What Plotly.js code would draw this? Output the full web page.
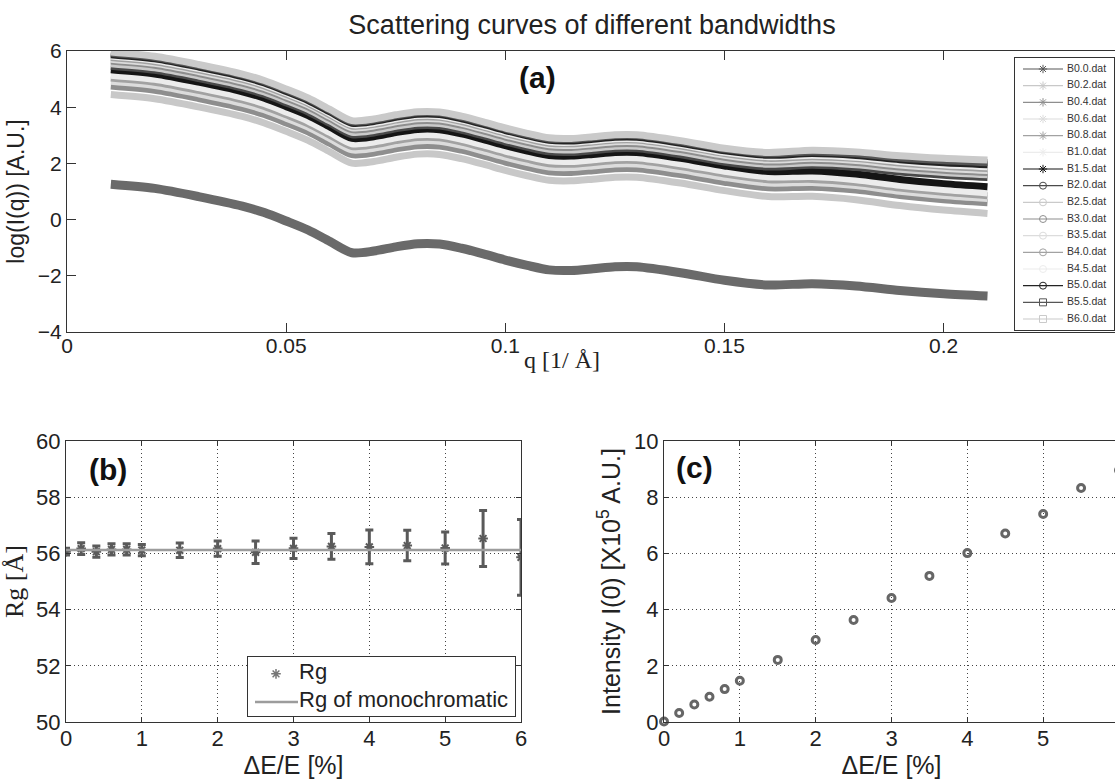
<!DOCTYPE html>
<html><head><meta charset="utf-8">
<script src="https://cdn.plot.ly/plotly-3.0.1.min.js"></script>
<style>html,body{margin:0;padding:0;overflow:hidden;background:#fff}#chart{width:1120px;height:779px}</style>
</head><body><div id="chart"></div><script>
// ---------- data: panel (a) ----------
const q = [0.010,0.020,0.030,0.040,0.045,0.050,0.055,0.060,0.065,0.070,0.075,0.080,0.085,0.090,0.095,0.100,0.105,0.110,0.115,0.120,0.125,0.130,0.140,0.150,0.160,0.170,0.180,0.190,0.200,0.210];
const B0_0 = [1.26,1.11,0.82,0.48,0.25,-0.05,-0.37,-0.78,-1.18,-1.12,-0.97,-0.86,-0.87,-1.02,-1.22,-1.44,-1.63,-1.79,-1.81,-1.75,-1.68,-1.68,-1.89,-2.16,-2.33,-2.28,-2.36,-2.52,-2.64,-2.72];
const B0_2 = [4.45,4.30,4.01,3.67,3.44,3.14,2.82,2.41,2.01,2.07,2.22,2.33,2.32,2.17,1.97,1.75,1.56,1.40,1.38,1.44,1.51,1.51,1.30,1.03,0.82,0.83,0.71,0.50,0.34,0.22];
const B0_4 = [4.75,4.60,4.31,3.97,3.74,3.44,3.12,2.71,2.31,2.37,2.52,2.63,2.62,2.47,2.27,2.05,1.86,1.70,1.68,1.74,1.81,1.81,1.60,1.33,1.13,1.15,1.05,0.86,0.71,0.60];
const B0_6 = [4.92,4.77,4.48,4.14,3.91,3.61,3.29,2.88,2.48,2.54,2.69,2.80,2.79,2.64,2.44,2.22,2.03,1.87,1.85,1.91,1.98,1.98,1.77,1.50,1.30,1.32,1.21,1.01,0.86,0.75];
const B0_8 = [5.04,4.89,4.60,4.26,4.03,3.73,3.41,3.00,2.60,2.66,2.81,2.92,2.91,2.76,2.56,2.34,2.15,1.99,1.97,2.03,2.10,2.10,1.89,1.62,1.42,1.43,1.32,1.12,0.97,0.85];
const B1_0 = [5.14,4.99,4.70,4.36,4.13,3.83,3.51,3.10,2.70,2.76,2.91,3.02,3.01,2.86,2.66,2.44,2.25,2.09,2.07,2.13,2.20,2.20,1.99,1.72,1.52,1.53,1.42,1.22,1.07,0.95];
const B1_5 = [5.33,5.18,4.89,4.55,4.32,4.02,3.70,3.29,2.89,2.95,3.10,3.21,3.20,3.05,2.85,2.63,2.44,2.28,2.26,2.32,2.39,2.39,2.18,1.91,1.71,1.73,1.62,1.43,1.28,1.17];
const B2_0 = [5.46,5.31,5.02,4.68,4.45,4.15,3.83,3.42,3.02,3.08,3.23,3.34,3.33,3.18,2.98,2.76,2.57,2.41,2.39,2.45,2.52,2.52,2.31,2.04,1.87,1.93,1.85,1.69,1.58,1.50];
const B2_5 = [5.55,5.40,5.11,4.77,4.54,4.24,3.92,3.51,3.11,3.17,3.32,3.43,3.42,3.27,3.07,2.85,2.66,2.50,2.48,2.54,2.61,2.61,2.40,2.13,1.97,2.02,1.95,1.79,1.68,1.60];
const B3_0 = [5.64,5.49,5.20,4.86,4.63,4.33,4.01,3.60,3.20,3.26,3.41,3.52,3.51,3.36,3.16,2.94,2.75,2.59,2.57,2.63,2.70,2.70,2.49,2.22,2.05,2.11,2.03,1.87,1.76,1.68];
const B3_5 = [5.71,5.56,5.27,4.93,4.70,4.40,4.08,3.67,3.27,3.33,3.48,3.59,3.58,3.43,3.23,3.01,2.82,2.66,2.64,2.70,2.77,2.77,2.56,2.29,2.12,2.18,2.10,1.94,1.83,1.75];
const B4_0 = [5.77,5.62,5.33,4.99,4.76,4.46,4.14,3.73,3.33,3.39,3.54,3.65,3.64,3.49,3.29,3.07,2.88,2.72,2.70,2.76,2.83,2.83,2.62,2.35,2.18,2.24,2.17,2.01,1.90,1.82];
const B4_5 = [5.82,5.67,5.38,5.04,4.81,4.51,4.19,3.78,3.38,3.44,3.59,3.70,3.69,3.54,3.34,3.12,2.93,2.77,2.75,2.81,2.88,2.88,2.67,2.40,2.24,2.29,2.22,2.07,1.95,1.88];
const B5_0 = [5.87,5.72,5.43,5.09,4.86,4.56,4.24,3.83,3.43,3.49,3.64,3.75,3.74,3.59,3.39,3.17,2.98,2.82,2.80,2.86,2.93,2.93,2.72,2.45,2.29,2.35,2.28,2.13,2.02,1.95];
const B5_5 = [5.92,5.77,5.48,5.14,4.91,4.61,4.29,3.88,3.48,3.54,3.69,3.80,3.79,3.64,3.44,3.22,3.03,2.87,2.85,2.91,2.98,2.98,2.77,2.50,2.34,2.41,2.34,2.19,2.09,2.02];
const B6_0 = [5.96,5.81,5.52,5.18,4.95,4.65,4.33,3.92,3.52,3.58,3.73,3.84,3.83,3.68,3.48,3.26,3.07,2.91,2.89,2.95,3.02,3.02,2.81,2.54,2.39,2.47,2.41,2.27,2.18,2.12];
const seriesNames = ['B0.0.dat','B0.2.dat','B0.4.dat','B0.6.dat','B0.8.dat','B1.0.dat','B1.5.dat','B2.0.dat','B2.5.dat','B3.0.dat','B3.5.dat','B4.0.dat','B4.5.dat','B5.0.dat','B5.5.dat','B6.0.dat'];
const seriesValues = [B0_0,B0_2,B0_4,B0_6,B0_8,B1_0,B1_5,B2_0,B2_5,B3_0,B3_5,B4_0,B4_5,B5_0,B5_5,B6_0];
const qTickVals = [0,0.05,0.1,0.15,0.2];
const qTickText = ['0','0.05','0.1','0.15','0.2'];

// ---------- data: panels (b) and (c) ----------
const deltaE = [0,0.2,0.4,0.6,0.8,1.0,1.5,2.0,2.5,3.0,3.5,4.0,4.5,5.0,5.5,6.0];
const rg = [56.06,56.17,56.06,56.14,56.14,56.12,56.11,56.17,56.04,56.18,56.25,56.23,56.28,56.19,56.53,55.86];
const rgErr = [0.12,0.21,0.2,0.2,0.2,0.2,0.26,0.27,0.4,0.36,0.46,0.6,0.54,0.57,1.0,1.35];
const rgMono = 56.12;
const intensity0 = [0.02,0.32,0.62,0.90,1.17,1.47,2.21,2.92,3.63,4.41,5.20,6.01,6.71,7.40,8.33,8.96];
const rgLegendNames = ['Rg','Rg of monochromatic'];

// ---------- styles ----------
const seriesStyle = [
  {color:'#6a6a6a', legend:'#575757', symbol:'asterisk-open'},
  {color:'#c8c8c8', legend:'#c8c8c8', symbol:'asterisk-open'},
  {color:'#8e8e8e', legend:'#8e8e8e', symbol:'asterisk-open'},
  {color:'#dcdcdc', legend:'#dcdcdc', symbol:'asterisk-open'},
  {color:'#a2a2a2', legend:'#a2a2a2', symbol:'asterisk-open'},
  {color:'#ececec', legend:'#ececec', symbol:'asterisk-open'},
  {color:'#151515', legend:'#151515', symbol:'asterisk-open'},
  {color:'#4a4a4a', legend:'#4a4a4a', symbol:'circle-open'},
  {color:'#cacaca', legend:'#cacaca', symbol:'circle-open'},
  {color:'#8e8e8e', legend:'#8e8e8e', symbol:'circle-open'},
  {color:'#dcdcdc', legend:'#dcdcdc', symbol:'circle-open'},
  {color:'#a2a2a2', legend:'#a2a2a2', symbol:'circle-open'},
  {color:'#ececec', legend:'#ececec', symbol:'circle-open'},
  {color:'#232323', legend:'#232323', symbol:'circle-open'},
  {color:'#565656', legend:'#565656', symbol:'square-open'},
  {color:'#cacaca', legend:'#cacaca', symbol:'square-open'}
];
const SANS = 'Liberation Sans, Arial, sans-serif';
const SERIF = 'Liberation Serif, Times New Roman, serif';
const AX = '#333333';
const W = 1120, H = 779;
const px = v => v / W;
const py = v => 1 - v / H;

const traces = [];
// panel (a) curves
seriesValues.forEach((vals, i) => {
  traces.push({
    x: q, y: vals, type: 'scatter', mode: 'lines', xaxis: 'x', yaxis: 'y',
    line: {color: seriesStyle[i].color, width: i === 0 ? 9 : 7, shape: 'spline', smoothing: 0.8},
    name: seriesNames[i], hoverinfo: 'skip'
  });
});
// legend of (a) drawn in its own small subplot
const legIdx = seriesNames.map((_, i) => i);
seriesNames.forEach((n, i) => {
  traces.push({
    x: [8, 48], y: [i, i], type: 'scatter', mode: 'lines', xaxis: 'x4', yaxis: 'y4',
    line: {color: seriesStyle[i].legend, width: 1.2}, hoverinfo: 'skip'
  });
});
traces.push({
  x: legIdx.map(() => 28), y: legIdx, type: 'scatter', mode: 'markers', xaxis: 'x4', yaxis: 'y4',
  marker: {symbol: seriesStyle.map(s => s.symbol), size: 7, color: seriesStyle.map(s => s.legend),
           line: {color: seriesStyle.map(s => s.legend), width: 1}},
  hoverinfo: 'skip'
});
traces.push({
  x: legIdx.map(() => 52), y: legIdx, text: seriesNames, type: 'scatter', mode: 'text',
  xaxis: 'x4', yaxis: 'y4', textposition: 'middle right',
  textfont: {family: SANS, size: 10.5, color: '#333'}, hoverinfo: 'skip'
});

// panel (b)
traces.push({
  x: deltaE, y: rg, type: 'scatter', mode: 'markers', xaxis: 'x2', yaxis: 'y2', name: 'Rg',
  marker: {symbol: 'asterisk-open', size: 8, color: '#5a5a5a', line: {color: '#5a5a5a', width: 2}},
  error_y: {type: 'data', array: rgErr, visible: true, thickness: 3, width: 4, color: '#5a5a5a'},
  hoverinfo: 'skip'
});
traces.push({
  x: [0, 6], y: [rgMono, rgMono], type: 'scatter', mode: 'lines', xaxis: 'x2', yaxis: 'y2',
  name: 'Rg of monochromatic', line: {color: '#9c9c9c', width: 2.5}, hoverinfo: 'skip'
});
// legend of (b)
traces.push({
  x: [28], y: [1], type: 'scatter', mode: 'markers', xaxis: 'x5', yaxis: 'y5',
  marker: {symbol: 'asterisk-open', size: 8, color: '#777', line: {color: '#777', width: 1.5}}, hoverinfo: 'skip'
});
traces.push({
  x: [7, 50], y: [0, 0], type: 'scatter', mode: 'lines', xaxis: 'x5', yaxis: 'y5',
  line: {color: '#9c9c9c', width: 2.5}, hoverinfo: 'skip'
});
traces.push({
  x: [51, 51], y: [1, 0], text: rgLegendNames, type: 'scatter', mode: 'text', xaxis: 'x5', yaxis: 'y5',
  textposition: 'middle right', textfont: {family: SANS, size: 22, color: '#222'}, hoverinfo: 'skip'
});

// panel (c)
traces.push({
  x: deltaE, y: intensity0, type: 'scatter', mode: 'markers', xaxis: 'x3', yaxis: 'y3',
  marker: {symbol: 'circle-open', size: 7, color: '#666', line: {color: '#666', width: 3}},
  cliponaxis: false, hoverinfo: 'skip'
});

const gridAx = (extra) => Object.assign({
  showline: true, mirror: 'ticks', linecolor: AX, linewidth: 1,
  ticks: 'inside', ticklen: 5, tickcolor: AX,
  showgrid: true, gridcolor: '#444', griddash: '1px,3px', gridwidth: 1,
  zeroline: false, tickfont: {family: SANS, size: 22, color: '#222'}
}, extra);
const hiddenAx = (extra) => Object.assign({
  showline: true, mirror: true, linecolor: AX, linewidth: 1,
  ticks: '', showticklabels: false, showgrid: false, zeroline: false, fixedrange: true
}, extra);

const layout = {
  width: W, height: H, margin: {l: 0, r: 0, t: 0, b: 0},
  paper_bgcolor: '#ffffff', plot_bgcolor: '#ffffff', showlegend: false,
  title: {text: 'Scattering curves of different bandwidths', font: {family: SANS, size: 27, color: '#222'},
          x: px(592), xanchor: 'center', xref: 'paper', y: py(25), yanchor: 'middle', yref: 'paper'},
  xaxis: {domain: [px(67), px(1119)], range: [0, 0.24], anchor: 'y',
          tickvals: qTickVals, ticktext: qTickText, ticks: 'inside', ticklen: 9, tickcolor: AX,
          ticklabelstandoff: -5,
          showline: true, mirror: 'ticks', linecolor: AX, linewidth: 1, showgrid: false, zeroline: false,
          tickfont: {family: SANS, size: 21, color: '#222'}},
  yaxis: {domain: [py(332), py(51)], range: [-4, 6], dtick: 2, anchor: 'x',
          ticks: 'inside', ticklen: 9, tickcolor: AX,
          showline: true, mirror: 'ticks', linecolor: AX, linewidth: 1, showgrid: false, zeroline: false,
          tickfont: {family: SANS, size: 21, color: '#222'},
          title: {text: 'log(I(q)) [A.U.]', font: {family: SANS, size: 23, color: '#222'}, standoff: 6}},
  xaxis2: gridAx({domain: [px(66), px(521)], range: [0, 6], dtick: 1, anchor: 'y2', ticklabelstandoff: -3,
          title: {text: 'ΔE/E [%]', font: {family: SANS, size: 25, color: '#222'}, standoff: 2}}),
  yaxis2: gridAx({domain: [py(722), py(441)], range: [50, 60], dtick: 2, anchor: 'x2',
          title: {text: 'Rg [Å]', font: {family: SERIF, size: 26, color: '#222'}, standoff: 6}}),
  xaxis3: gridAx({domain: [px(664), px(1119)], range: [0, 6], dtick: 1, anchor: 'y3', ticklabelstandoff: -3,
          title: {text: 'ΔE/E [%]', font: {family: SANS, size: 25, color: '#222'}, standoff: 2}}),
  yaxis3: gridAx({domain: [py(722), py(441)], range: [0, 10], dtick: 2, anchor: 'x3',
          title: {text: 'Intensity I(0) [X10<sup>5</sup> A.U.]', font: {family: SANS, size: 25, color: '#222'}, standoff: 6}}),
  xaxis4: hiddenAx({domain: [px(1015), px(1114)], range: [0, 99], anchor: 'y4'}),
  yaxis4: hiddenAx({domain: [py(330), py(58)], range: [15.66, -0.66], anchor: 'x4'}),
  xaxis5: hiddenAx({domain: [px(248), px(515)], range: [0, 267], anchor: 'y5'}),
  yaxis5: hiddenAx({domain: [py(716), py(657)], range: [-0.5, 1.6], anchor: 'x5'}),
  annotations: [
    {text: 'q [1/ Å]', xref: 'paper', yref: 'paper', x: px(562), y: py(360), xanchor: 'center', yanchor: 'middle',
     showarrow: false, font: {family: SERIF, size: 24, color: '#222'}},
    {text: '<b>(a)</b>', xref: 'x', yref: 'y', x: 0.1074, y: 5.04, showarrow: false,
     font: {family: SANS, size: 30, color: '#111'}},
    {text: '<b>(b)</b>', xref: 'x2', yref: 'y2', x: 0.55, y: 58.97, showarrow: false,
     font: {family: SANS, size: 30, color: '#111'}},
    {text: '<b>(c)</b>', xref: 'x3', yref: 'y3', x: 0.4, y: 9.04, showarrow: false,
     font: {family: SANS, size: 30, color: '#111'}}
  ]
};
Plotly.newPlot('chart', traces, layout, {staticPlot: true, displayModeBar: false});
</script></body></html>
